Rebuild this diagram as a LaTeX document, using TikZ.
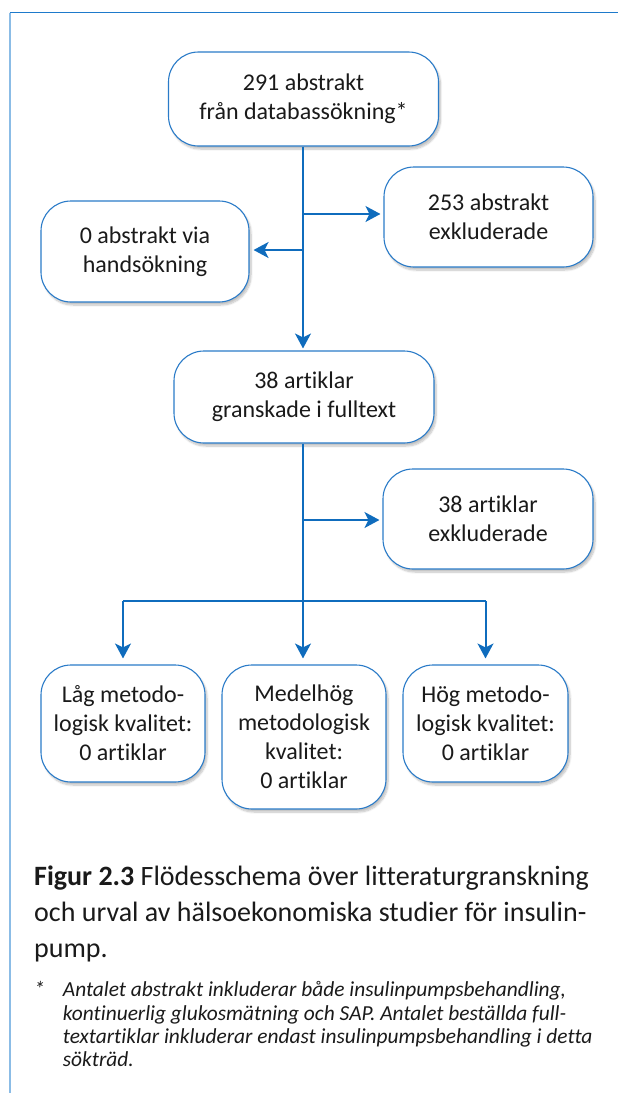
\documentclass[tikz,border=0pt]{standalone}
\usepackage{fontspec}
\setmainfont{Carlito}[Ligatures=NoCommon]
\usetikzlibrary{arrows.meta,shadows.blur}
\definecolor{lineblue}{HTML}{0F6CBD}
\definecolor{boxblue}{HTML}{2A7BC8}
\definecolor{frametop}{HTML}{1E7ACB}
\definecolor{frameleft}{HTML}{8BBCE6}
\definecolor{txt}{HTML}{1A1A1A}
\tikzset{
  flowbox/.style={draw=boxblue, line width=1.1pt, fill=white, rounded corners=30pt,
    align=center, text=txt, font=\fontsize{24}{29}\selectfont, inner sep=0pt,
    blur shadow={shadow xshift=2pt, shadow yshift=-3pt, shadow blur steps=8, shadow opacity=25}},
  flowarrow/.style={draw=lineblue, line width=2pt, -{Stealth[length=15pt,width=16pt,inset=4pt]}},
  flowline/.style={draw=lineblue, line width=2pt},
  captxt/.style={anchor=base west, inner sep=0pt, text=txt, font=\fontsize{28}{36}\selectfont},
  notetxt/.style={anchor=base west, inner sep=0pt, text=txt, font=\fontsize{21.4}{23}\selectfont\itshape},
}
\begin{document}
\begin{tikzpicture}[x=1pt,y=-1pt]
\useasboundingbox (0,0) rectangle (618,1093);
% frame
\draw[frametop, line width=1.6pt] (9.5,12.5) -- (618,12.5);
\draw[frameleft, line width=2pt] (9.5,12.5) -- (9.5,1093);
% boxes
\node[flowbox, minimum width=270pt, minimum height=94pt] (top) at (303.5,99) {291 abstrakt\\från databassökning*};
\node[flowbox, minimum width=209pt, minimum height=100pt] (ex1) at (488.5,217) {253 abstrakt\\exkluderade};
\node[flowbox, minimum width=208pt, minimum height=101pt] (hand) at (145,251.5) {0 abstrakt via\\handsökning};
\node[flowbox, minimum width=260pt, minimum height=92pt] (full) at (304,397) {38 artiklar\\granskade i fulltext};
\node[flowbox, minimum width=210pt, minimum height=100pt] (ex2) at (488,519) {38 artiklar\\exkluderade};
\node[flowbox, minimum width=164pt, minimum height=117pt] (low) at (123,723.5) {Låg metodo-\\logisk kvalitet:\\0 artiklar};
\node[flowbox, minimum width=164pt, minimum height=144pt] (med) at (304,737) {Medelhög\\metodologisk\\kvalitet:\\0 artiklar};
\node[flowbox, minimum width=165pt, minimum height=117pt] (high) at (485.5,723.5) {Hög metodo-\\logisk kvalitet:\\0 artiklar};
% branch points
\coordinate (b1) at (303,214);
\coordinate (b2) at (303,250);
\coordinate (b3) at (303,520);
\coordinate (b4) at (303,601);
% connectors
\draw[flowarrow, shorten >=2pt] (top.south -| b1) -- (full.north -| b1);
\draw[flowarrow, shorten >=3pt] (b1) -- (b1 -| ex1.west);
\draw[flowarrow, shorten >=4pt] (b2) -- (b2 -| hand.east);
\draw[flowarrow, shorten >=6pt] (full.south -| b3) -- (med.north -| b3);
\draw[flowarrow, shorten >=3pt] (b3) -- (b3 -| ex2.west);
\draw[flowline] (b4 -| low.north) -- (b4 -| high.north);
\draw[flowarrow, shorten >=6pt] (b4 -| low.north) -- (low.north);
\draw[flowarrow, shorten >=6pt] (b4 -| high.north) -- (high.north);
% caption
\node[captxt] (cap1) at (34,885) {\textbf{Figur 2.3} Flödesschema över litteraturgranskning};
\node[captxt] (cap2) at (34,921) {och urval av hälsoekonomiska studier för insulin-};
\node[captxt] (cap3) at (34,957) {pump.};
% footnote
\node[notetxt] (star) at (34,996.7) {*};
\node[notetxt] (n1) at (62.7,996.7) {Antalet abstrakt inkluderar både insulinpumpsbehandling,};
\node[notetxt] (n2) at (62.7,1020) {kontinuerlig glukosmätning och SAP. Antalet beställda full-};
\node[notetxt] (n3) at (62.7,1043.3) {textartiklar inkluderar endast insulinpumpsbehandling i detta};
\node[notetxt] (n4) at (62.7,1066.7) {sökträd.};
\end{tikzpicture}
\end{document}
